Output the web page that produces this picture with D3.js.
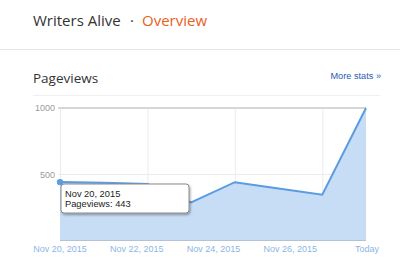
<!DOCTYPE html>
<html>
<meta charset="utf-8">
<style>
  body { margin: 0; background: #fff; }
  svg { display: block; }
</style>
<body>
  <script src="https://d3js.org/d3.v7.min.js"></script>
  <script>
    // daily pageviews, Nov 20 .. Nov 27 (today)
    var days = ["Nov 20, 2015", "Nov 21, 2015", "Nov 22, 2015", "Nov 23, 2015",
                "Nov 24, 2015", "Nov 25, 2015", "Nov 26, 2015", "Nov 27, 2015"];
    var views = [443, 438, 428, 290, 442, 395, 348, 1000];
    var xLabels = ["Nov 20, 2015", "Nov 22, 2015", "Nov 24, 2015", "Nov 26, 2015", "Today"];
    var yTicks = [500, 1000];

    var width = 400, height = 259;
    var plot = {left: 60, right: 366, top: 108, bottom: 241};

    var svg = d3.select("body").append("svg")
        .attr("width", width)
        .attr("height", height);

    var defs = svg.append("defs");
    var f = defs.append("filter").attr("id", "shadow")
        .attr("x", "-10%").attr("y", "-20%").attr("width", "130%").attr("height", "160%");
    f.append("feDropShadow").attr("dx", 1).attr("dy", 1.5).attr("stdDeviation", 1.2)
        .attr("flood-color", "#000").attr("flood-opacity", 0.35);

    // header
    var headFont = "15px 'Open Sans', sans-serif";
    svg.append("text").attr("x", 33).attr("y", 26)
        .attr("fill", "#333").style("font", headFont)
        .text("Writers Alive");
    svg.append("text").attr("x", 132).attr("y", 26)
        .attr("text-anchor", "middle")
        .attr("fill", "#333").style("font", headFont)
        .text("\u00b7");
    svg.append("text").attr("x", 142).attr("y", 26)
        .attr("fill", "#e8601d").style("font", headFont)
        .text("Overview");

    svg.append("line").attr("x1", 0).attr("x2", width).attr("y1", 49.5).attr("y2", 49.5)
        .attr("stroke", "#e6e6e6");

    svg.append("text").attr("x", 33).attr("y", 83)
        .attr("fill", "#333")
        .style("font", "13.5px 'Open Sans', sans-serif")
        .text("Pageviews");

    svg.append("text").attr("x", 381).attr("y", 79)
        .attr("text-anchor", "end")
        .attr("fill", "#2a5bb3")
        .style("font", "9.2px 'Liberation Sans', Arial, sans-serif")
        .text("More stats \u00bb");

    svg.append("line").attr("x1", 33).attr("x2", 380).attr("y1", 95.5).attr("y2", 95.5)
        .attr("stroke", "#efefef");

    // scales
    var x = d3.scalePoint().domain(days).range([plot.left, plot.right]);
    var y = d3.scaleLinear().domain([0, 1000]).range([plot.bottom, plot.top]);
    var xl = d3.scalePoint().domain(xLabels).range([plot.left, plot.right + 1]);

    // vertical gridlines every second day
    svg.append("g").selectAll("line")
        .data(days.filter((d, i) => i % 2 === 0))
        .join("line")
          .attr("x1", d => x(d) + 0.5).attr("x2", d => x(d) + 0.5)
          .attr("y1", plot.top).attr("y2", plot.bottom)
          .attr("stroke", "#ececec");

    // horizontal gridlines
    svg.append("g").selectAll("line")
        .data(yTicks)
        .join("line")
          .attr("x1", plot.left - 2).attr("x2", plot.right)
          .attr("y1", d => y(d)).attr("y2", d => y(d))
          .attr("stroke", d => d === 1000 ? "#d6d6d6" : "#ececec")
          .attr("stroke-width", d => d === 1000 ? 2 : 1);

    svg.append("g").selectAll("text")
        .data(yTicks)
        .join("text")
          .attr("x", plot.left - 5).attr("y", d => y(d) + 3)
          .attr("text-anchor", "end")
          .attr("fill", "#9a9a9a")
          .style("font", "9px 'Liberation Sans', Arial, sans-serif")
          .text(d => d);

    // area + line
    var area = d3.area()
        .x((d, i) => x(days[i]))
        .y0(y(0))
        .y1(d => y(d));
    var line = d3.line()
        .x((d, i) => x(days[i]))
        .y(d => y(d));

    svg.append("path").datum(views)
        .attr("d", area)
        .attr("fill", "#c7ddf5");

    svg.append("line")
        .attr("x1", plot.left).attr("x2", plot.right)
        .attr("y1", y(0) - 0.5).attr("y2", y(0) - 0.5)
        .attr("stroke", "#b4c2d2");

    svg.append("path").datum(views)
        .attr("d", line)
        .attr("fill", "none")
        .attr("stroke", "#5b9be0")
        .attr("stroke-width", 2);

    svg.append("circle")
        .attr("cx", x(days[0])).attr("cy", y(views[0]))
        .attr("r", 3.2)
        .attr("fill", "#5b9be0");

    // x labels
    svg.append("g").selectAll("text")
        .data(xLabels)
        .join("text")
          .attr("x", d => xl(d)).attr("y", 252)
          .attr("text-anchor", "middle")
          .attr("fill", "#8db5e4")
          .style("font", "9px 'Liberation Sans', Arial, sans-serif")
          .text(d => d);

    // tooltip for first point
    var tip = svg.append("g").attr("transform", "translate(61,184)");
    tip.append("rect")
        .attr("width", 128).attr("height", 29)
        .attr("rx", 3)
        .attr("fill", "#fff")
        .attr("stroke", "#8a8a8a")
        .attr("filter", "url(#shadow)");
    tip.append("text").attr("x", 4).attr("y", 12.7)
        .attr("fill", "#222")
        .style("font", "9.3px 'Liberation Sans', Arial, sans-serif")
        .text(days[0]);
    tip.append("text").attr("x", 4).attr("y", 22.7)
        .attr("fill", "#222")
        .style("font", "9.3px 'Liberation Sans', Arial, sans-serif")
        .text("Pageviews: " + views[0]);
  </script>
</body>
</html>
